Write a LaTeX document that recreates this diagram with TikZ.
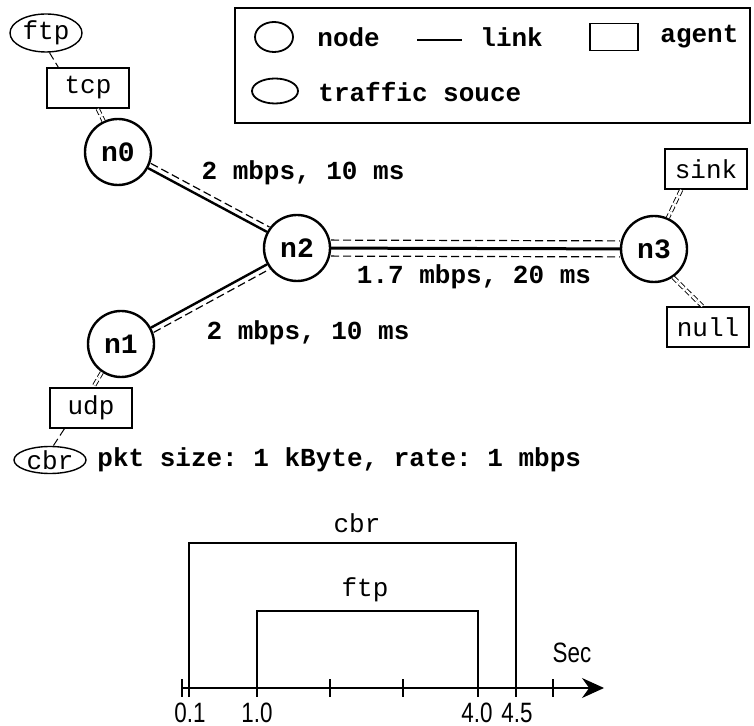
\documentclass[tikz,border=0pt]{standalone}
\usepackage{fontspec}
\setmainfont{Liberation Sans}
\setsansfont{Liberation Sans}
\setmonofont{Liberation Mono}
\usetikzlibrary{shapes.geometric,arrows.meta}

\begin{document}
\begin{tikzpicture}[x=0.5pt, y=-0.5pt,
          every node/.style = {inner sep = 0pt,
                               font = \ttfamily\fontsize{13}{15}\selectfont},
          host/.style       = {circle, draw,
                               line width = 1.2pt,
                               minimum size = 33pt,
                               font = \ttfamily\bfseries\fontsize{14}{16}\selectfont},
          agent/.style      = {rectangle, draw,
                               line width = 0.8pt,
                               minimum width  = 41pt,
                               minimum height = 20pt},
          source/.style     = {ellipse, draw,
                               line width = 0.7pt,
                               minimum width  = 36pt,
                               minimum height = 19pt},
          label/.style      = {font = \ttfamily\bfseries\fontsize{13}{15}\selectfont},
          link/.style       = {line width = 1.2pt},
          trace/.style      = {line width = 0.6pt,
                               dash pattern = on 4pt off 2pt},
          attach/.style     = {line width = 0.45pt,
                               dash pattern = on 3pt off 1.5pt,
                               double, double distance = 1.2pt},
          ticklabel/.style  = {font = \sffamily\fontsize{14}{16}\selectfont,
                               xscale = 0.8}]
  \useasboundingbox (0,0) rectangle (754,726);

  % legend
  \draw[line width=0.9pt] (235,8) rectangle (750,123);
  \node[ellipse, draw, line width=0.9pt,
        minimum width=19pt, minimum height=15pt] (keynode) at (274,37) {};
  \node[label, anchor=west] at (317,37) {node};
  \coordinate (keya) at (417,40);
  \coordinate (keyb) at (462,40);
  \draw[link] (keya) -- (keyb);
  \node[label, anchor=west] at (480,37) {link};
  \node[draw, line width=0.9pt,
        minimum width=24pt, minimum height=13.5pt] (keyagent) at (614,37) {};
  \node[label, anchor=west] at (660,37) {agent};
  \node[ellipse, draw, line width=0.9pt,
        minimum width=23pt, minimum height=12.5pt] (keysrc) at (275,91) {};
  \node[label, anchor=west] at (318,92) {traffic souce};

  % hosts and agents
  \node[host] (n0) at (118,152) {n0};
  \node[host] (n2) at (297,248) {n2};
  \node[host] (n3) at (654,249) {n3};
  \node[host] (n1) at (121,344) {n1};

  \node[agent] (tcp)  at (88,88)   {tcp};
  \node[agent] (udp)  at (91,408)  {udp};
  \node[agent] (sink) at (706,169) {sink};
  \node[agent] (null) at (708,327) {null};
  \node[source] (ftp) at (46,33)   {ftp};
  \node[source, minimum height=12.5pt] (cbr) at (50,460) {cbr};
  \node[label, anchor=west] (pkt) at (97,460) {pkt size: 1 kByte, rate: 1 mbps};

  % links, each with its packet trace alongside
  \draw[link] (n0) -- (n2);
  \draw[trace, transform canvas={shift={(2.6,-4.8)}}] (n0) -- (n2);
  \draw[link] (n1) -- (n2);
  \draw[trace, transform canvas={shift={(2.6,4.8)}}] (n1) -- (n2);
  \draw[link, line width=1.5pt] (n2) -- (n3);
  \draw[trace, transform canvas={shift={(0,-8)}}] (n2) -- (n3);
  \draw[trace, transform canvas={shift={(0,8)}}] (n2) -- (n3);

  \node[label] (l02) at (303,173) {2 mbps, 10 ms};
  \node[label] (l23) at (474,277) {1.7 mbps, 20 ms};
  \node[label] (l12) at (308,333) {2 mbps, 10 ms};

  % agents hooked to hosts
  \draw[attach] (tcp.-65)  -- (n0.115);
  \draw[attach] (n1.236)   -- (udp.84);
  \draw[attach] (sink.220) -- (n3.66);
  \draw[attach] (n3.-56)   -- (null.105);
  \draw[trace, line width=0.5pt] (ftp.-80) -- (tcp.145);
  \draw[trace, line width=0.5pt] (udp.218) -- (cbr.77);

  % start / stop times
  \begin{scope}[line width=0.6pt]
    \coordinate (t0) at (182,688);
    \coordinate (tend) at (604,688);
    \draw[-{Stealth[length=11pt, width=10pt]}] (t0) -- (tend);
    \foreach \t in {182,257,330,403,478,553}
      \draw (\t,679) -- (\t,697);
    \draw (189,697) -- (189,543) -- (516,543) -- (516,697);
    \draw (257,688) -- (257,611) -- (478,611) -- (478,688);
  \end{scope}
  \node (cbrtime) at (357,523) {cbr};
  \node (ftptime) at (365,590) {ftp};
  \node[ticklabel] (sec) at (572,653) {Sec};
  \node[ticklabel] at (190,713) {0.1};
  \node[ticklabel] at (257,713) {1.0};
  \node[ticklabel] at (477,713) {4.0};
  \node[ticklabel] at (517,713) {4.5};
\end{tikzpicture}
\end{document}
